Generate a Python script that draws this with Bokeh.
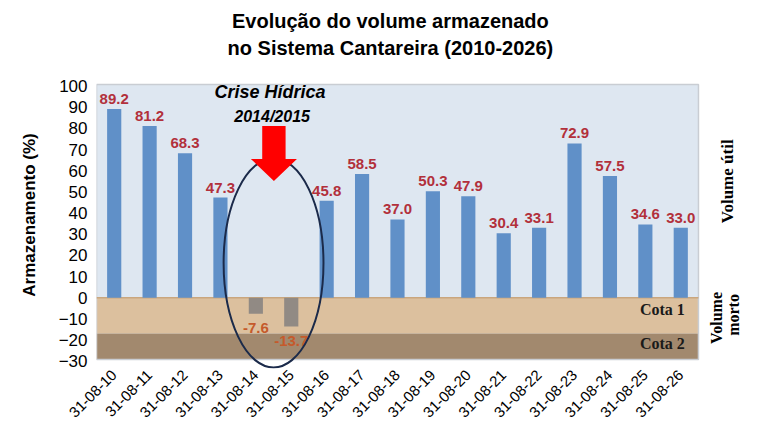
import numpy as np

from bokeh.core.properties import value
from bokeh.embed import file_html
from bokeh.models import ColumnDataSource, FixedTicker, Label, LinearAxis, Range1d
from bokeh.plotting import figure
from bokeh.resources import INLINE

# dates (31 de agosto de cada ano) and stored volume (%)
dates = ["31-08-10", "31-08-11", "31-08-12", "31-08-13", "31-08-14", "31-08-15",
         "31-08-16", "31-08-17", "31-08-18", "31-08-19", "31-08-20", "31-08-21",
         "31-08-22", "31-08-23", "31-08-24", "31-08-25", "31-08-26"]
volume = [89.2, 81.2, 68.3, 47.3, -7.6, -13.7, 45.8, 58.5, 37.0, 50.3, 47.9,
          30.4, 33.1, 72.9, 57.5, 34.6, 33.0]
y_ticks = [-30, -20, -10, 0, 10, 20, 30, 40, 50, 60, 70, 80, 90, 100]

SANS = "Liberation Sans"
SERIF = "Liberation Serif"

xs = np.arange(len(dates)) + 0.5
vol = np.array(volume)
pos = vol >= 0
n = len(dates)

# the frame runs up to the top and right edges so titles and side notes can sit in it
p = figure(width=744, height=429, output_backend="svg", toolbar_location=None,
           x_range=Range1d(0, 18.3), y_range=Range1d(-33.5, 140.5),
           min_border_left=96, min_border_right=0, min_border_top=0,
           min_border_bottom=61)
p.background_fill_color = "white"
p.border_fill_color = "white"
p.outline_line_color = None
p.grid.visible = False

# background bands: volume util, cota 1, cota 2
p.quad(left=0, right=n, bottom=0, top=100.8, fill_color="#dee7f1", line_color=None)
p.quad(left=0, right=n, bottom=-17, top=0, fill_color="#dcc09e", line_color=None)
p.quad(left=0, right=n, bottom=-29.3, top=-17, fill_color="#a2896e", line_color=None)
p.quad(left=0, right=n, bottom=-29.3, top=100.8, fill_color=None,
       line_color="#c9cdd3", line_width=1.5)
p.segment(x0=0, x1=n, y0=0, y1=0, line_color="#c9a67e", line_width=1.5)

pos_src = ColumnDataSource(dict(x=xs[pos], y=vol[pos], t=["%.1f" % v for v in vol[pos]]))
neg_src = ColumnDataSource(dict(x=xs[~pos], y=vol[~pos], t=["%.1f" % v for v in vol[~pos]]))

p.vbar(x="x", top="y", bottom=0, width=0.4, source=pos_src, fill_color="#6090c8", line_color=None)
p.vbar(x="x", top="y", bottom=0, width=0.4, source=neg_src, fill_color="#918a84", line_color=None)

p.text(x="x", y="y", text="t", source=pos_src, text_align="center", text_baseline="bottom",
       y_offset=-5, text_font=value(SANS), text_font_style="bold",
       text_font_size="15px", text_color="#b2303b")
p.text(x="x", y="y", text="t", source=neg_src, text_align="center", text_baseline="top",
       y_offset=9, text_font=value(SANS), text_font_style="bold",
       text_font_size="15px", text_color="#c55a2b")

# crisis ellipse and arrow
p.ellipse(x=5.0, y=16.4, width=2.82, height=98.8, fill_color=None,
          line_color="#1b2a4a", line_width=2)
p.patch(x=[4.68, 5.34, 5.34, 5.66, 5.01, 4.36, 4.68],
        y=[81.2, 81.2, 65.6, 65.6, 55.2, 65.6, 65.6],
        fill_color="#ff0000", line_color=None)

p.add_layout(Label(x=4.9, y=97.4, text="Crise Hídrica", text_align="center",
                   text_baseline="middle", text_font=SANS, text_font_style="bold italic",
                   text_font_size="18px", text_color="black"))
p.add_layout(Label(x=4.96, y=85.5, text="2014/2015", text_align="center",
                   text_baseline="middle", text_font=SANS, text_font_style="bold italic",
                   text_font_size="16px", text_color="black"))

# band names
p.add_layout(Label(x=15.98, y=-5.8, text="Cota 1", text_align="center",
                   text_baseline="middle", text_font=SERIF, text_font_style="bold",
                   text_font_size="16px", text_color="#1a1a1a"))
p.add_layout(Label(x=15.98, y=-21.9, text="Cota 2", text_align="center",
                   text_baseline="middle", text_font=SERIF, text_font_style="bold",
                   text_font_size="16px", text_color="#1a1a1a"))

# right side notes
p.add_layout(Label(x=17.82, y=55.0, text="Volume útil", angle=np.pi / 2,
                   text_align="center", text_baseline="middle", text_font=SERIF,
                   text_font_style="bold", text_font_size="17px", text_color="black"))
p.add_layout(Label(x=17.52, y=-9.6, text="Volume", angle=np.pi / 2,
                   text_align="center", text_baseline="middle", text_font=SERIF,
                   text_font_style="bold", text_font_size="16px", text_color="black"))
p.add_layout(Label(x=17.98, y=-8.2, text="morto", angle=np.pi / 2,
                   text_align="center", text_baseline="middle", text_font=SERIF,
                   text_font_style="bold", text_font_size="16px", text_color="black"))

# title
p.add_layout(Label(x=8.3, y=130.8, text="Evolução do volume armazenado",
                   text_align="center", text_baseline="middle", text_font=SANS,
                   text_font_style="bold", text_font_size="20px", text_color="black"))
p.add_layout(Label(x=8.3, y=118.1, text="no Sistema Cantareira (2010-2026)",
                   text_align="center", text_baseline="middle", text_font=SANS,
                   text_font_style="bold", text_font_size="20px", text_color="black"))

# axes
p.yaxis.ticker = FixedTicker(ticks=y_ticks)
p.yaxis.axis_line_color = None
p.yaxis.major_tick_line_color = None
p.yaxis.minor_tick_line_color = None
p.yaxis.major_tick_out = 0
p.yaxis.minor_tick_out = 0
p.yaxis.major_label_standoff = 9
p.yaxis.major_label_text_font = SANS
p.yaxis.major_label_text_font_size = "17px"
p.yaxis.major_label_text_color = "black"

# y title as a second left axis so it can sit off the frame centre
ylab = LinearAxis(ticker=FixedTicker(ticks=[39.1]),
                  major_label_overrides={39.1: "Armazenamento (%)"},
                  major_label_orientation="parallel",
                  axis_line_color=None, major_tick_line_color=None,
                  minor_tick_line_color=None, major_tick_out=0, minor_tick_out=0,
                  major_label_standoff=16, major_label_text_font=SANS,
                  major_label_text_font_style="bold",
                  major_label_text_font_size="17px", major_label_text_color="black")
p.add_layout(ylab, "left")

p.xaxis.ticker = FixedTicker(ticks=list(xs))
p.xaxis.major_label_overrides = {float(x): d for x, d in zip(xs, dates)}
p.xaxis.major_label_orientation = np.pi / 4
p.xaxis.axis_line_color = None
p.xaxis.major_tick_line_color = None
p.xaxis.minor_tick_line_color = None
p.xaxis.major_tick_out = 0
p.xaxis.minor_tick_out = 0
p.xaxis.major_label_standoff = 4
p.xaxis.major_label_text_font = SANS
p.xaxis.major_label_text_font_size = "15px"
p.xaxis.major_label_text_color = "black"

open("out.html", "w").write(file_html(p, INLINE))
